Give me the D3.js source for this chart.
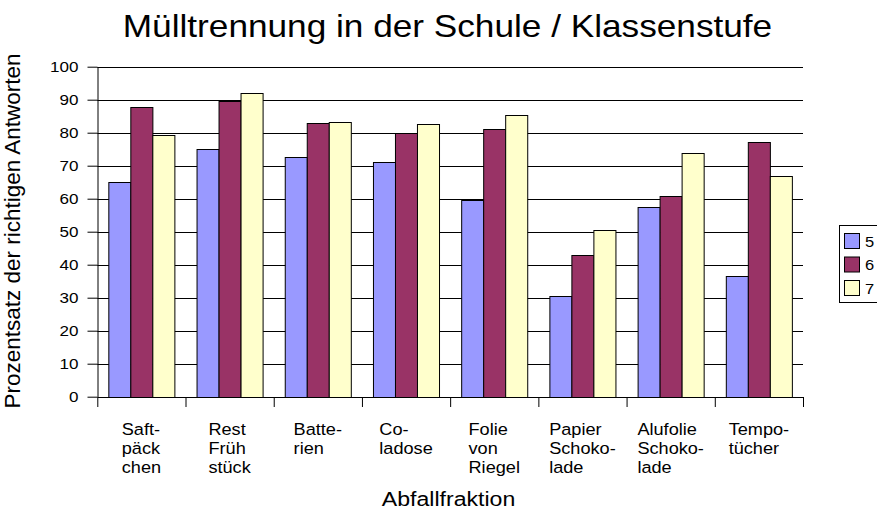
<!DOCTYPE html>
<html><head><meta charset="utf-8">
<script src="https://cdn.jsdelivr.net/npm/d3@7"></script>
<style>
body{margin:0;background:#fff}
text{font-family:"Liberation Sans",Arial,sans-serif;fill:#000}
</style>
</head><body><svg id="c" width="877" height="510"></svg>
<script>
const categories = [
  ["Saft-","päck","chen"],
  ["Rest","Früh","stück"],
  ["Batte-","rien"],
  ["Co-","ladose"],
  ["Folie","von","Riegel"],
  ["Papier","Schoko-","lade"],
  ["Alufolie","Schoko-","lade"],
  ["Tempo-","tücher"]
];
const seriesNames = ["5","6","7"];
const values5 = [65.0, 75.0, 72.7, 71.2, 59.7, 30.6, 57.4, 36.7];
const values6 = [87.8, 89.6, 83.0, 80.0, 81.1, 42.8, 60.9, 77.1];
const values7 = [79.2, 91.9, 83.3, 82.6, 85.4, 50.4, 73.9, 67.0];
const yTicks = [0,10,20,30,40,50,60,70,80,90,100];
const colors = ["#9999FF","#993366","#FFFFCC"];
const title = "Mülltrennung in der Schule / Klassenstufe";
const yTitle = "Prozentsatz der richtigen Antworten";
const xTitle = "Abfallfraktion";

const series = [values5, values6, values7];
const keys = categories.map(c => c.join(" "));
const SX = 1.1;

const svg = d3.select("#c");
const x = d3.scaleBand().domain(keys).range([97.3, 803]).paddingInner(0.25).paddingOuter(0.125);
const xi = d3.scaleBand().domain(seriesNames).range([0, x.bandwidth()]);
const y = d3.scaleLinear().domain([0, 100]).range([396.7, 66.7]);
const xb = d3.scaleLinear().domain([0, keys.length]).range(x.range());

// gridlines
svg.append("g").selectAll("line").data(yTicks.filter(t => t > 0)).join("line")
  .attr("x1", 97.3).attr("x2", 803)
  .attr("y1", d => Math.round(y(d)) + 0.5).attr("y2", d => Math.round(y(d)) + 0.5)
  .attr("stroke", "#000").attr("stroke-width", 1);

// bars
const groups = svg.append("g").selectAll("g").data(keys).join("g")
  .attr("transform", d => `translate(${x(d)},0)`);
groups.selectAll("rect").data((d, i) => seriesNames.map((s, j) => ({s, v: series[j][i], j})))
  .join("rect")
  .attr("x", d => Math.round(xi(d.s)) + 0.5)
  .attr("width", xi.bandwidth())
  .attr("y", d => Math.round(y(d.v)) + 0.5)
  .attr("height", d => Math.round(y(0)) - Math.round(y(d.v)))
  .attr("fill", d => colors[d.j])
  .attr("stroke", "#000").attr("stroke-width", 1);

// y axis
const ya = svg.append("g").attr("transform", "translate(97.5,0)")
  .call(d3.axisLeft(y).tickValues(yTicks).tickSize(10).tickSizeOuter(0));
ya.select(".domain").attr("stroke", "#000");
ya.selectAll(".tick line").attr("stroke", "#000");
ya.selectAll(".tick text")
  .attr("x", 0).attr("text-anchor", "end")
  .attr("transform", `translate(-19,0) scale(${SX},1)`)
  .style("font-family", '"Liberation Sans",Arial,sans-serif')
  .style("font-size", "15.5px").attr("fill", "#000");

// x axis
const xa = svg.append("g").attr("transform", "translate(0,397)")
  .call(d3.axisBottom(xb).ticks(keys.length).tickFormat("").tickSize(10).tickSizeOuter(0));
xa.select(".domain").attr("stroke", "#000");
xa.selectAll(".tick line").attr("stroke", "#000");

// category labels
const baselines = [434.5, 453.8, 473];
categories.forEach((lines, i) => {
  const cx = x(keys[i]) + x.bandwidth() / 2;
  const g = svg.append("g");
  const texts = lines.map((l, k) => g.append("text")
    .attr("text-anchor", "start").style("font-size", "16.5px").text(l));
  const maxW = d3.max(texts, t => t.node().getComputedTextLength()) * SX;
  const left = cx - maxW / 2;
  texts.forEach((t, k) => t.attr("transform", `translate(${left},${baselines[k]}) scale(${SX},1)`));
});

// title
svg.append("text").attr("text-anchor", "middle")
  .attr("transform", `translate(447.5,36.7) scale(${SX},1)`)
  .style("font-size", "32px").text(title);

// axis titles
svg.append("text").attr("text-anchor", "middle")
  .attr("transform", "translate(20,231) rotate(-90)")
  .style("font-size", "22.5px").text(yTitle);
svg.append("text").attr("text-anchor", "middle")
  .attr("transform", `translate(448.5,505.5) scale(${SX},1)`)
  .style("font-size", "21px").text(xTitle);

// legend
const lg = svg.append("g");
lg.append("rect").attr("x", 839.5).attr("y", 225.5).attr("width", 50).attr("height", 77)
  .attr("fill", "#fff").attr("stroke", "#000");
seriesNames.forEach((s, j) => {
  lg.append("rect").attr("x", 844.5).attr("y", 233.5 + j * 23.5).attr("width", 15).attr("height", 15)
    .attr("fill", colors[j]).attr("stroke", "#000");
  lg.append("text").attr("transform", `translate(865,${246.5 + j * 23.5}) scale(${SX},1)`)
    .style("font-size", "15px").text(s);
});
</script>
</body></html>
